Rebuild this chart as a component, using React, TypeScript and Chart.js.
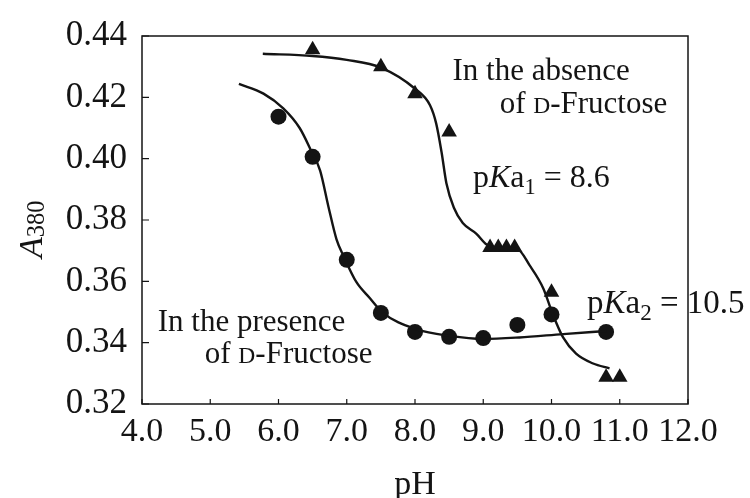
import React, { useEffect, useRef } from "react";
import { Chart, registerables } from "chart.js";

Chart.register(...registerables);

// Measured points: absence of D-Fructose (triangles)
const phAbsence = [6.5, 7.5, 8.0, 8.5, 9.1, 9.22, 9.34, 9.46, 10.0, 10.8, 11.0];
const aAbsence = [0.4355, 0.430, 0.4212, 0.4087, 0.371, 0.371, 0.371, 0.371, 0.3564, 0.3287, 0.3287];

// Measured points: presence of D-Fructose (circles)
const phPresence = [6.0, 6.5, 7.0, 7.5, 8.0, 8.5, 9.0, 9.5, 10.0, 10.8];
const aPresence = [0.4137, 0.4006, 0.367, 0.3497, 0.3435, 0.3419, 0.3415, 0.3458, 0.3492, 0.3435];

// Fitted curve: absence
const phAbsFit = [5.77, 6.5, 7.0, 7.5, 8.0, 8.22, 8.31, 8.39, 8.46, 8.57, 8.7, 8.9, 9.05, 9.3, 9.5, 9.68, 9.88, 10.02, 10.17, 10.36, 10.61, 10.85];
const aAbsFit = [0.4342, 0.4335, 0.4322, 0.4297, 0.4228, 0.4174, 0.4115, 0.402, 0.392, 0.384, 0.379, 0.3755, 0.372, 0.3708, 0.3705, 0.3652, 0.3577, 0.3492, 0.3417, 0.3364, 0.3332, 0.3316];

// Fitted curve: presence
const phPresFit = [5.42, 5.78, 6.07, 6.31, 6.48, 6.61, 6.73, 6.85, 6.95, 7.14, 7.34, 7.53, 8.02, 8.51, 9.0, 9.53, 10.17, 10.8];
const aPresFit = [0.4244, 0.4212, 0.4164, 0.410, 0.4025, 0.3961, 0.3845, 0.3737, 0.3684, 0.3598, 0.3545, 0.3497, 0.3444, 0.3422, 0.3412, 0.3417, 0.3428, 0.3438];

const xMin = 4.0;
const xMax = 12.0;
const xStep = 1.0;
const yMin = 0.32;
const yMax = 0.44;
const yStep = 0.02;

const FONT = '"Liberation Serif", "Times New Roman", Times, serif';
const INK = "#141414";

type Seg = { t: string; italic?: boolean; scale?: number; dy?: number };

function drawRich(ctx: CanvasRenderingContext2D, x: number, y: number, segs: Seg[], size: number) {
  let cx = x;
  for (const s of segs) {
    const fs = size * (s.scale ?? 1);
    ctx.font = `${s.italic ? "italic " : ""}${fs}px ${FONT}`;
    ctx.fillText(s.t, cx, y + (s.dy ?? 0) * size);
    cx += ctx.measureText(s.t).width;
  }
}

const annotations: { x: number; y: number; size: number; segs: Seg[] }[] = [
  { x: 8.55, y: 0.4258, size: 31, segs: [{ t: "In the absence" }] },
  { x: 9.24, y: 0.4149, size: 31, segs: [{ t: "of " }, { t: "D", scale: 0.76 }, { t: "-Fructose" }] },
  { x: 8.85, y: 0.3906, size: 32, segs: [{ t: "p" }, { t: "K", italic: true }, { t: "a" }, { t: "1", scale: 0.7, dy: 0.2 }, { t: " = 8.6" }] },
  { x: 10.52, y: 0.3496, size: 33, segs: [{ t: "p" }, { t: "K", italic: true }, { t: "a" }, { t: "2", scale: 0.7, dy: 0.2 }, { t: " = 10.5" }] },
  { x: 4.23, y: 0.3438, size: 31, segs: [{ t: "In the presence" }] },
  { x: 4.92, y: 0.3333, size: 31, segs: [{ t: "of " }, { t: "D", scale: 0.76 }, { t: "-Fructose" }] },
];

const framePlugin = {
  id: "frameAndText",
  afterDraw(chart: any) {
    const { ctx, chartArea } = chart;
    const xs = chart.scales.x;
    const ys = chart.scales.y;
    ctx.save();
    ctx.strokeStyle = INK;
    ctx.lineWidth = 1.5;
    ctx.strokeRect(chartArea.left, chartArea.top, chartArea.right - chartArea.left, chartArea.bottom - chartArea.top);
    ctx.lineWidth = 1.2;
    ctx.beginPath();
    for (const t of xs.ticks) {
      const px = xs.getPixelForValue(t.value);
      ctx.moveTo(px, chartArea.bottom);
      ctx.lineTo(px, chartArea.bottom - 5);
    }
    for (const t of ys.ticks) {
      const py = ys.getPixelForValue(t.value);
      ctx.moveTo(chartArea.left, py);
      ctx.lineTo(chartArea.left + 7, py);
    }
    ctx.stroke();

    ctx.fillStyle = INK;
    ctx.textBaseline = "alphabetic";
    ctx.textAlign = "left";
    for (const a of annotations) {
      drawRich(ctx, xs.getPixelForValue(a.x), ys.getPixelForValue(a.y), a.segs, a.size);
    }

    // y-axis title: A (italic) with subscript 380
    const cy = (chartArea.top + chartArea.bottom) / 2;
    ctx.save();
    ctx.translate(42, cy + 38);
    ctx.rotate(-Math.PI / 2);
    drawRich(ctx, 0, 0, [{ t: "A", italic: true }, { t: "380", scale: 0.72, dy: 0.06 }], 34);
    ctx.restore();

    // x-axis title
    ctx.font = `34px ${FONT}`;
    ctx.textAlign = "center";
    ctx.fillText("pH", (chartArea.left + chartArea.right) / 2, 494);
    ctx.restore();
  },
};

export default function App() {
  const ref = useRef<HTMLCanvasElement | null>(null);
  useEffect(() => {
    if (!ref.current) return;
    const chart = new Chart(ref.current, {
      type: "scatter",
      data: {
        datasets: [
          {
            label: "absence fit",
            type: "line",
            data: phAbsFit.map((x, i) => ({ x, y: aAbsFit[i] })),
            borderColor: INK,
            borderWidth: 2.4,
            pointRadius: 0,
            cubicInterpolationMode: "monotone",
            fill: false,
          } as any,
          {
            label: "presence fit",
            type: "line",
            data: phPresFit.map((x, i) => ({ x, y: aPresFit[i] })),
            borderColor: INK,
            borderWidth: 2.4,
            pointRadius: 0,
            cubicInterpolationMode: "monotone",
            fill: false,
          } as any,
          {
            label: "In the absence of D-Fructose",
            data: phAbsence.map((x, i) => ({ x, y: aAbsence[i] })),
            pointStyle: "triangle",
            pointRadius: 9,
            backgroundColor: INK,
            borderColor: INK,
            borderWidth: 0,
          },
          {
            label: "In the presence of D-Fructose",
            data: phPresence.map((x, i) => ({ x, y: aPresence[i] })),
            pointStyle: "circle",
            pointRadius: 8,
            backgroundColor: INK,
            borderColor: INK,
            borderWidth: 0,
          },
        ],
      },
      options: {
        responsive: false,
        animation: false,
        layout: { padding: { top: 29.5, right: 62, bottom: 0, left: 0 } },
        plugins: { legend: { display: false }, tooltip: { enabled: false } },
        scales: {
          x: {
            type: "linear",
            min: xMin,
            max: xMax,
            grid: { display: false, drawTicks: false },
            border: { display: false },
            ticks: {
              stepSize: xStep,
              autoSkip: false,
              maxRotation: 0,
              minRotation: 0,
              padding: 8,
              color: INK,
              font: { family: FONT, size: 34 },
              callback: (v: any) => Number(v).toFixed(1),
            },
            afterFit: (s: any) => {
              s.height = 94;
            },
          },
          y: {
            type: "linear",
            min: yMin,
            max: yMax,
            grid: { display: false, drawTicks: false },
            border: { display: false },
            ticks: {
              stepSize: yStep,
              padding: 15,
              color: INK,
              font: { family: FONT, size: 35 },
              callback: (v: any) => Number(v).toFixed(2),
            },
            afterFit: (s: any) => {
              s.width = 142;
            },
          },
        },
      },
      plugins: [framePlugin],
    });
    return () => chart.destroy();
  }, []);
  return (
    <div style={{ position: "absolute", left: 0, top: 0, width: 750, height: 498, background: "#fff" }}>
      <canvas ref={ref} width={750} height={498} style={{ display: "block" }} />
    </div>
  );
}
